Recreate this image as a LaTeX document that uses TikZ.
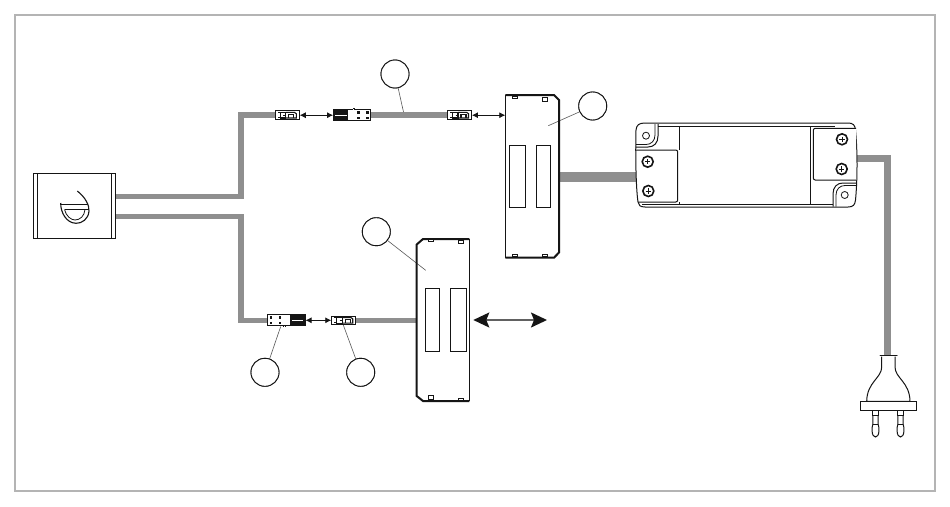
\documentclass[tikz,border=0pt]{standalone}
\usetikzlibrary{arrows.meta}
\definecolor{cablegray}{HTML}{8F8F8F}
\definecolor{framegray}{HTML}{B4B4B4}
\definecolor{inkblack}{HTML}{151515}
\tikzset{
  cable/.style={draw=cablegray,line width=5.5pt},
  thickcable/.style={draw=cablegray,line width=10pt},
  leader/.style={draw=black!65,line width=.6pt},
  callout/.style={circle,draw=inkblack,line width=.9pt,minimum size=28pt,inner sep=0pt,fill=white},
  ink/.style={draw=inkblack,line width=1pt},
  thinink/.style={draw=inkblack,line width=.8pt},
  heavyink/.style={draw=inkblack,line width=2pt},
  connbox/.style={rectangle,draw=inkblack,line width=1pt,fill=white,inner sep=0pt},
  ghost/.style={rectangle,inner sep=0pt},
  smallarrow/.style={draw=inkblack,line width=.8pt,{Latex[length=6pt,width=6pt]}-{Latex[length=6pt,width=6pt]}},
  bigarrow/.style={draw=black!62,line width=1.8pt,{Stealth[length=16pt,width=15pt,inset=3pt,color=inkblack]}-{Stealth[length=16pt,width=15pt,inset=3pt,color=inkblack]}},
  screw/.style={circle,draw=inkblack,line width=1.6pt,minimum size=11pt,inner sep=0pt},
  hole/.style={circle,draw=inkblack,line width=.8pt,minimum size=7pt,inner sep=0pt},
}
\newcommand{\femaledetail}[2]{%
  \begin{scope}[shift={(#1,#2)}]
    \draw[line width=1pt,draw=inkblack] (-7,-2.6) -- (-9.5,-2.6) (-7,2.6) -- (-9.5,2.6);
    \draw[line width=1.1pt,draw=inkblack] (-7,-2.8) rectangle (-1.5,2.8);
    \draw[line width=1.1pt,draw=inkblack] (-1.5,-2.8) -- (7.2,-2.8) -- (9,-1.5) -- (9,2.8) -- (-1.5,2.8);
    \draw[line width=1.1pt,draw=inkblack] (1.5,2.8) -- (1.5,-.4) -- (6.5,-.4) -- (6.5,2.8);
    \draw[line width=.8pt,draw=inkblack] (-4,-.2) -- (-1.5,-.2);
  \end{scope}}
\newcommand{\maledetail}[3]{%
  \begin{scope}[shift={(#1,#2)},rotate=#3]
    \fill[inkblack] (4,-5.2) rectangle (18.4,5.2);
    \draw[white,line width=.9pt] (5.5,0) -- (17,0);
    \fill[inkblack] (-3,5) rectangle (-.5,6.8);
    \fill[white] (-2.2,5.2) rectangle (-1.2,6.2);
    \foreach \px in {-15.3,-6.3} \foreach \py in {-2.8,2.8}
      \fill[inkblack] (\px-1.3,\py-1.3) rectangle (\px+1.3,\py+1.3);
  \end{scope}}
\newcommand{\cross}[1]{%
  \draw[inkblack,line width=.8pt] (#1) ++(-2.6,0) -- ++(5.2,0) (#1) ++(0,-2.6) -- ++(0,5.2);}
\begin{document}
\begin{tikzpicture}[x=1pt,y=-1pt]
\useasboundingbox (0,0) rectangle (950,506);
\fill[white] (0,0) rectangle (950,506);
\draw[framegray,line width=2pt] (15,15) rectangle (935,491);

% ---- anchors and nodes
\node[ghost,minimum width=82.5pt,minimum height=65pt] (sw) at (74.4,205.8) {};
\coordinate (swA) at (115.6,196.5);
\coordinate (swB) at (115.6,216.5);
\node[ghost,minimum width=53.7pt,minimum height=162.7pt] (bt) at (532.15,176.35) {};
\node[ghost,minimum width=52.6pt,minimum height=162pt] (bb) at (443,320) {};
\node[ghost,minimum width=221.7pt,minimum height=84pt] (dr) at (745.8,165) {};
\coordinate (btA) at (505.3,115.2);
\coordinate (drB) at (856,158.3);
\coordinate (plugTop) at (887.6,355);

\node[callout] (c1) at (395,74) {};
\node[callout] (c2) at (592.7,106) {};
\node[callout] (c3) at (376.3,231.7) {};
\node[callout] (c4) at (265,372.3) {};
\node[callout] (c5) at (360.7,372.3) {};
\coordinate (l1) at (403.5,112);
\coordinate (l2) at (548.3,125.7);
\coordinate (l3) at (425.7,270.3);
\coordinate (l4) at (280.7,326.5);
\coordinate (l5) at (343.3,325);
\coordinate (ba1) at (473.3,320);
\coordinate (ba2) at (547,320);

% ---- cables
\node[ghost,minimum width=24.5pt,minimum height=8.5pt] (ft1) at (287.3,115.2) {};
\node[ghost,minimum width=37.4pt,minimum height=11pt] (mt) at (352,115.2) {};
\node[ghost,minimum width=24.5pt,minimum height=8.5pt] (ft2) at (459.5,115.2) {};
\node[ghost,minimum width=38pt,minimum height=11pt] (mb) at (286.3,320.3) {};
\node[ghost,minimum width=24.5pt,minimum height=8.5pt] (fb) at (343.7,320.3) {};
\draw[cable] (swA) -- (241,196.5) -- (241,115.2) -- (ft1.west);
\draw[cable] (swB) -- (241,216.5) -- (241,320.3) -- (mb.west);
\draw[cable] (mt.east) -- (ft2.west);
\draw[cable] (fb.east) -- (bb.west |- fb.east);
\draw[thickcable] (bt.east |- dr.center) ++(0,12) -- (636,177);
\draw[draw=cablegray,line width=6.5pt] (drB) -- (887.6,158.3) -- (plugTop);

% ---- leaders
\draw[leader] (c1) -- (l1);
\draw[leader] (c2) -- (l2);
\draw[leader] (c3) -- (l3);
\draw[leader] (c4) -- (l4);
\draw[leader] (c5) -- (l5);
\node[callout] at (c1) {};
\node[callout] at (c2) {};
\node[callout] at (c3) {};
\node[callout] at (c4) {};
\node[callout] at (c5) {};

% ---- switch box
\draw[ink] (33.3,173.3) rectangle (115.6,238.3);
\draw[ink] (37.3,173.3) -- (37.3,238.3) (111.3,173.3) -- (111.3,238.3);
\draw[inkblack,line width=1.1pt] (77.3,191) .. controls (85,197) and (89.5,205) .. (89,211)
   .. controls (88.5,219) and (82,223.5) .. (76,223.3)
   .. controls (66,223) and (60.5,212) .. (60.7,203);
\draw[thinink] (61,204.3) -- (88,204.3);
\draw[thinink] (64.5,209.5) -- (89,209.5);
\draw[thinink] (64.5,209.5) .. controls (66,216) and (71,220) .. (75,220)
   .. controls (80,220) and (84.5,216) .. (85,209.5);

% ---- small connectors
\node[connbox,minimum width=24.5pt,minimum height=8.5pt] at (ft1) {};
\node[connbox,minimum width=37.4pt,minimum height=11pt] at (mt) {};
\node[connbox,minimum width=24.5pt,minimum height=8.5pt] at (ft2) {};
\node[connbox,minimum width=38pt,minimum height=11pt] at (mb) {};
\node[connbox,minimum width=24.5pt,minimum height=8.5pt] at (fb) {};
\femaledetail{287.3}{115.2}
\femaledetail{459.5}{115.2}
\femaledetail{343.7}{320.3}
\maledetail{352}{115.2}{180}
\maledetail{286.3}{320.3}{0}
\draw[smallarrow] (ft1.east) -- (mt.west);
\draw[smallarrow] (ft2.east) -- (btA);
\draw[smallarrow] (mb.east) -- (fb.west);

% ---- upper block
\draw[ink] (509.3,145.3) rectangle (525.3,207.3);
\draw[ink] (536.3,145.3) rectangle (550.7,207.3);
\draw[ink] (505.3,95) -- (505.3,257.7);
\draw[heavyink] (505.3,95) -- (554,95) -- (559,100) -- (559,252.5) -- (554,257.7) -- (505.3,257.7);
\foreach \xa/\xb/\ya/\yb in {512.3/517.7/96/98.3,542.7/547.3/97.7/101,512.3/517.7/254/256.5,542.7/547.3/254.5/256.8}
  \draw[thinink,fill=white] (\xa,\ya) rectangle (\xb,\yb);

% ---- lower block
\draw[ink] (425.3,288.3) rectangle (439.3,351.3);
\draw[ink] (450.3,288.3) rectangle (466.7,351.3);
\draw[ink] (469.3,239) -- (469.3,401);
\draw[heavyink] (469.3,239) -- (423,239) -- (416.7,244.5) -- (416.7,396) -- (423,401) -- (469.3,401);
\foreach \xa/\xb/\ya/\yb in {428.3/433.3/239.8/241.8,458.3/463.7/240.5/243.3,428.3/433.3/395.3/399.3,458.3/463.7/398.3/400.2}
  \draw[thinink,fill=white] (\xa,\ya) rectangle (\xb,\yb);
\draw[bigarrow] (ba1) -- (ba2);

% ---- driver
\draw[ink,fill=white] (645,123) -- (848,123) .. controls (853,123) and (855,125) .. (855.5,130)
  .. controls (857.5,150) and (857.5,180) .. (855.5,200) .. controls (855,205) and (853,207) .. (848,207)
  -- (645,207) .. controls (640,207) and (638.5,205) .. (638,202)
  .. controls (635.5,185) and (635.5,145) .. (636,130) .. controls (636.5,125) and (639,123) .. (645,123) -- cycle;
\draw[thinink] (658,126.7) -- (835,126.7) (642,204) -- (833,204);
\draw[thinink] (679.3,126.7) -- (679.3,150) (679.3,202) -- (679.3,204) (810.3,126.7) -- (810.3,204);
\draw[ink,rounded corners=2pt] (635.6,150) -- (677.7,150) -- (677.7,202) -- (638,202);
\draw[ink,fill=white,rounded corners=2pt] (856,128.3) -- (813.3,128.3) -- (813.3,180) -- (856,180);
\draw[ink] (658,124) -- (658,136) .. controls (658,143) and (654,147) .. (648,147) -- (635.6,147);
\draw[thinink] (655,124) -- (655,135) .. controls (655,141) and (651,144.5) .. (646,144.5) -- (636,144.5);
\draw[ink] (833,206.5) -- (833,194) .. controls (833,187) and (837,183) .. (843,183) -- (856,183);
\draw[thinink] (836,206.5) -- (836,195) .. controls (836,189) and (840,185.5) .. (845,185.5) -- (856,185.5);
\node[hole] (h1) at (646,135.7) {};
\node[hole] (h2) at (844.7,195) {};
\node[screw] (s1) at (647.7,161.7) {}; \cross{s1}
\node[screw] (s2) at (648.3,191) {};   \cross{s2}
\node[screw] (s3) at (842,139.3) {};   \cross{s3}
\node[screw] (s4) at (841.7,169) {};   \cross{s4}

% ---- plug
\draw[ink,fill=white] (881.7,356.5) -- (881.7,367)
  .. controls (881.7,378) and (867,382) .. (866.7,401.3) -- (910,401.3)
  .. controls (909.7,382) and (895,378) .. (895,367) -- (895,356.5);
\draw[ink,line cap=round] (880,355.3) -- (897,355.3);
\draw[ink] (860,401.3) rectangle (916.7,410.7);
\foreach \px in {875.5,900.5} {
  \draw[ink] (\px-3.2,410.7) -- (\px-3.2,415) -- (\px+3.2,415) -- (\px+3.2,410.7);
  \draw[ink] (\px-2.6,415) -- (\px-2.6,424) .. controls (\px-3.4,426) and (\px-3.4,428) .. (\px-3.4,431)
    .. controls (\px-3.4,435) and (\px-1.5,437) .. (\px,437)
    .. controls (\px+1.5,437) and (\px+3.4,435) .. (\px+3.4,431)
    .. controls (\px+3.4,428) and (\px+3.4,426) .. (\px+2.6,424) -- (\px+2.6,415);
  \draw[thinink] (\px-2.6,424) -- (\px+2.6,424);
}
\end{tikzpicture}
\end{document}
